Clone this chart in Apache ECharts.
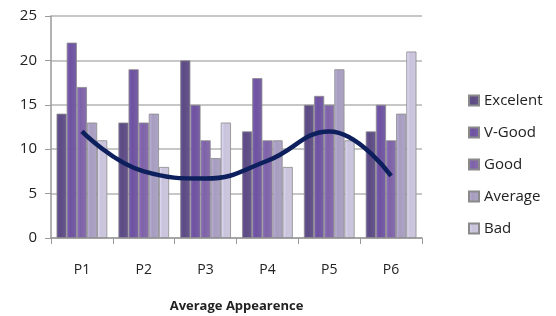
<!DOCTYPE html>
<html>
<head>
<meta charset="utf-8">
<script src="https://cdn.jsdelivr.net/npm/echarts@6/dist/echarts.min.js"></script>
</head>
<body style="margin:0;background:#fff">
<div id="main" style="width:556px;height:316px;"></div>
<script>
var categories = ['P1', 'P2', 'P3', 'P4', 'P5', 'P6'];
var seriesNames = ['Excelent', 'V-Good', 'Good', 'Average', 'Bad'];
var excelent = [14, 13, 20, 12, 15, 12];
var vgood = [22, 19, 15, 18, 16, 15];
var good = [17, 13, 11, 11, 15, 11];
var average = [13, 14, 9, 11, 19, 14];
var bad = [11, 8, 13, 8, 11, 21];
var trend = [12, 7.5, 6.7, 8.7, 12, 7.0];

var colors = ['#5c4a84', '#6e52a0', '#7e62a8', '#a79dc0', '#c9c3dc'];
var values = [excelent, vgood, good, average, bad];

var font = 'Open Sans';

function shade(c) {
    // fake 3d: darker left edge
    return new echarts.graphic.LinearGradient(0, 0, 1, 0, [
        { offset: 0, color: echarts.color.lift(c, -0.15) },
        { offset: 0.35, color: c },
        { offset: 1, color: echarts.color.lift(c, 0.08) }
    ]);
}

var series = [];
for (var i = 0; i < seriesNames.length; i++) {
    series.push({
        name: seriesNames[i],
        type: 'bar',
        data: values[i],
        barGap: '0%',
        barCategoryGap: '18%',
        itemStyle: {
            color: shade(colors[i]),
            borderColor: '#8a8a8a',
            borderWidth: 0.8
        }
    });
}
series.push({
    name: 'trend',
    type: 'line',
    data: trend,
    smooth: 0.45,
    symbol: 'none',
    lineStyle: { color: '#0d1f5c', width: 4.5 },
    z: 5
});

var myChart = echarts.init(document.getElementById('main'));
myChart.setOption({
    color: colors,
    animation: false,
    grid: { left: 51, right: 134, top: 16, bottom: 78, outerBoundsMode: 'none', containLabel: false },
    legend: {
        data: seriesNames,
        orient: 'vertical',
        left: 463,
        top: 88,
        itemWidth: 10,
        itemHeight: 10,
        itemGap: 17,
        icon: 'rect',
        textStyle: { fontFamily: font, fontSize: 15, color: '#222' }
    },
    xAxis: {
        type: 'category',
        data: categories,
        boundaryGap: true,
        name: 'Average Appearence',
        nameLocation: 'middle',
        nameGap: 62,
        nameTextStyle: { fontFamily: font, fontSize: 13, fontWeight: 'bold', color: '#222' },
        axisLine: { lineStyle: { color: '#9a9a9a', width: 1.5 } },
        axisTick: { show: true, length: 6, lineStyle: { color: '#9a9a9a' } },
        axisLabel: { fontFamily: font, fontSize: 14, color: '#222', margin: 25 }
    },
    yAxis: {
        type: 'value',
        min: 0,
        max: 25,
        interval: 5,
        axisLine: { show: true, lineStyle: { color: '#9a9a9a', width: 1.5 } },
        axisTick: { show: true, length: 6, lineStyle: { color: '#9a9a9a' } },
        axisLabel: { fontFamily: font, fontSize: 15, color: '#222', margin: 14 },
        splitLine: { lineStyle: { color: '#b4b4b4', width: 1.5 } }
    },
    series: series
});
</script>
</body>
</html>
